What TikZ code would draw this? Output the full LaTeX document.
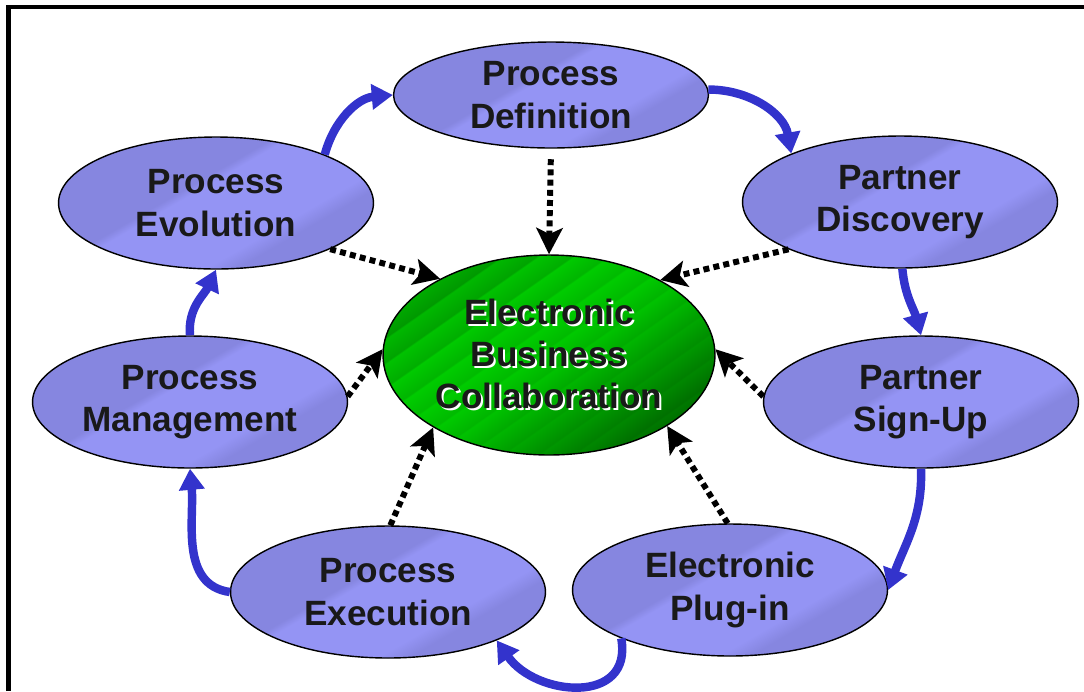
\documentclass[tikz,border=0pt]{standalone}
\usepackage{fontspec}
\setmainfont{Liberation Sans}
\usetikzlibrary{shapes.geometric, arrows.meta}

\definecolor{lavlight}{RGB}{148,148,244}
\definecolor{lavdark}{RGB}{134,134,224}
\definecolor{flowblue}{RGB}{51,51,204}

\pgfdeclarehorizontalshading{lavsheen}{100bp}{color(0bp)=(lavdark); color(43bp)=(lavdark); color(45bp)=(lavlight); color(63bp)=(lavlight); color(67bp)=(lavdark); color(100bp)=(lavdark)}

\pgfdeclarehorizontalshading{greenstripes}{100bp}{rgb(0bp)=(0,0.66,0); rgb(25bp)=(0,0.68,0); rgb(28.7bp)=(0,0.60,0); rgb(29bp)=(0,0.72,0); rgb(32.7bp)=(0,0.64,0); rgb(33bp)=(0,0.76,0); rgb(36.7bp)=(0,0.68,0); rgb(37bp)=(0,0.79,0); rgb(40.7bp)=(0,0.71,0); rgb(41bp)=(0,0.80,0); rgb(44.7bp)=(0,0.73,0); rgb(45bp)=(0,0.80,0); rgb(48.7bp)=(0,0.73,0); rgb(49bp)=(0,0.79,0); rgb(52.7bp)=(0,0.71,0); rgb(53bp)=(0,0.76,0); rgb(56.7bp)=(0,0.67,0); rgb(57bp)=(0,0.71,0); rgb(60.7bp)=(0,0.62,0); rgb(61bp)=(0,0.65,0); rgb(64.7bp)=(0,0.56,0); rgb(65bp)=(0,0.59,0); rgb(68.7bp)=(0,0.50,0); rgb(69bp)=(0,0.53,0); rgb(72.7bp)=(0,0.44,0); rgb(73bp)=(0,0.47,0); rgb(76.7bp)=(0,0.40,0); rgb(100bp)=(0,0.40,0)}

\newcommand\shadowline[1]{\leavevmode\rlap{\kern1.2pt\raisebox{-1.2pt}{\textcolor{white}{#1}}}#1}

\begin{document}
\begin{tikzpicture}[x=0.02cm, y=-0.02cm,
		font=\fontsize{20}{24}\selectfont\bfseries,
		stage/.style={ellipse, draw, line width=0.8pt, shade, shading=lavsheen, shading angle=-60,
			minimum width=6.3cm, minimum height=2.64cm, inner sep=0pt, align=center, text=black!90},
		hub/.style={ellipse, draw, line width=0.8pt, shade, shading=greenstripes, shading angle=-55,
			minimum width=6.64cm, minimum height=4cm, inner sep=0pt, align=center, text=black!90},
		loopflow/.style={draw=flowblue, line width=4.8pt, -{Triangle[width=14pt,length=12pt]}},
		feedin/.style={draw=black, line width=3.4pt, dash pattern=on 3.4pt off 2.4pt,
			-{Stealth[width=15pt,length=15pt,inset=3.5pt]}}]
	\useasboundingbox (0,0) rectangle (1084,691);
	\draw[line width=2.3pt] (8.5,691) |- (1084,7);

	\node [stage, minimum height=2.12cm] (pdef) at (551,95) {Process\\Definition};
	\node [stage] (pdis) at (900,202) {Partner\\Discovery};
	\node [stage] (psign) at (921,402) {Partner\\Sign-Up};
	\node [stage] (plug) at (730,590) {Electronic\\Plug-in};
	\node [stage] (pexe) at (388,592) {Process\\Execution};
	\node [stage] (pman) at (190,402) {Process\\Management};
	\node [stage] (pevo) at (216,203) {Process\\Evolution};
	\node [hub] (ebc) at (549,355) {\shadowline{Electronic}\\\shadowline{Business}\\\shadowline{Collaboration}};

	\draw [loopflow] (pevo.24) to[out=75, in=185] (pdef.180);
	\draw [loopflow] (pdef.2) to[out=0, in=100] (pdis.156);
	\draw [loopflow] (pdis.272) to[out=-85, in=105] (psign.90);
	\draw [loopflow] (psign.270) to[out=-88, in=70] (plug.0);
	\draw [loopflow] (plug.204) to[out=-80, in=-55, looseness=1.4] (pexe.336);
	\draw [loopflow] (pexe.180) to[out=172, in=-85] (pman.270);
	\draw [loopflow] (pman.90) to[out=95, in=-115] (pevo.270);

	\draw [feedin, shorten <=6pt] (pdef.270) -- (ebc.90);
	\draw [feedin] (pevo.338) -- (ebc.145);
	\draw [feedin] (pdis.203) -- (ebc.34);
	\draw [feedin] (pman.2) -- (ebc.178);
	\draw [feedin] (psign.178) -- (ebc.2);
	\draw [feedin] (pexe.88) -- (ebc.212);
	\draw [feedin] (plug.92) -- (ebc.329);
\end{tikzpicture}
\end{document}
